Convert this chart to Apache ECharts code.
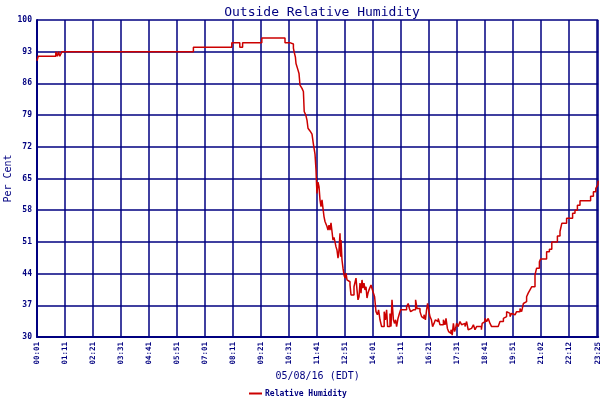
<!DOCTYPE html>
<html>
<head>
<meta charset="utf-8">
<script src="https://cdn.jsdelivr.net/npm/echarts@6/dist/echarts.min.js"></script>
<style>
html,body{margin:0;padding:0;background:#fff;}
#chart{width:600px;height:400px;}
</style>
</head>
<body>
<div id="chart"></div>
<script>
// minutes since 00:00 on 05/08/16
const times = [1,4,48,52,55,58,63,392,488,508,515,563,621,633,642,644,647,648.5,653,656,658.5,663.5,667,669,673,676,678.5,683.5,688.5,692,696,698.5,700,701,703.5,706,708.5,711,713.5,716,718.5,721,726,728.5,731,733.5,736,738.5,741,743.5,746,748.5,751,753.5,756,758.5,760,761,763.5,766,768.5,771,773.5,776,778.5,781,783.5,786,793.5,796,798.5,801,803.5,806,808.5,811,813.5,816,818.5,821,823.5,826,828.5,831,836,841,843.5,845,848.5,852,855,858.5,862.5,869,872,875,877.5,883.5,886,888.5,892,895,897.5,900,903.5,907,910,925,929,932,935,938.5,942,945,947.5,951,958.5,962.5,965,968.5,972,975,977.5,981,983.5,987,990,993.5,997,1000,1004,1008.5,1017,1021,1023.5,1027,1030,1033.5,1036,1039,1042,1045,1047.5,1050,1054,1058.5,1062.5,1067,1071,1075,1079,1083.5,1087.5,1092,1096,1100,1112,1114,1117,1121,1125,1129,1133.5,1137.5,1154,1158.5,1167,1171,1175,1179,1183.5,1187.5,1192,1196,1200,1208.5,1212.5,1217,1221,1225,1229,1233.5,1238,1246,1250,1257,1260,1275,1282,1288,1302,1308.5,1313,1325,1340,1346,1352,1358.5,1385,1392,1398,1403,1404];
const humidity = [91,92,93,92,93,92,93,94,95,94,95,96,95,94.7,93.8,92.9,91.8,90.4,89.1,88.2,85.6,84.9,84.2,79.8,79,77.9,76.1,75.5,74.8,72.6,70.4,66.9,63.5,61.7,64.2,63.2,60.3,58.8,60.3,58.4,56.6,55.5,54.4,53.6,54.7,53.6,55.2,53.3,51.4,52,51,49.9,49.2,47.4,49.2,52.9,47.7,51.4,47,45.2,43.7,43,44.1,42.6,43,42.2,41.5,39.3,41.1,41.5,43,40.4,38.2,38.9,41.9,39.7,42.6,40.8,41.9,40.4,41.1,38.6,39.7,40.4,41.5,40,40.4,38.9,35.6,34.9,36,33.8,32.3,35.6,33.8,36,32.3,35.2,32.3,38.2,33.8,33,33.8,32.3,34.1,35.2,36,36.7,37.4,36.3,35.6,36,35.6,36,38.2,36.3,35.6,34.5,34.1,34.9,33.8,36,37.4,35.6,34.5,33.8,32.3,33,33.8,33.4,34.1,32.7,33.8,32.7,34.1,31.9,31.2,30.8,31.6,30.4,33,31.2,31.9,33,32.3,33.4,32.7,33,32.3,33.4,31.6,31.9,32.3,32.7,31.6,32.3,31.6,33,33.4,34.1,33.4,34.1,33,32.3,32.7,33.4,34.1,34.5,35.6,35.2,34.5,35.2,34.9,35.2,35.6,36.3,35.6,37.4,37.8,38.9,39.7,40.4,41.1,43.7,45.2,46.6,47.2,48.8,49.4,51,52.3,53.3,55.1,56.2,57.3,58,59.1,60.1,61.1,62.1,62.8,63.6,64.5];
const tickLabels = ["00:01","01:11","02:21","03:31","04:41","05:51","07:01","08:11","09:21","10:31","11:41","12:51","14:01","15:11","16:21","17:31","18:41","19:51","21:02","22:12","23:22","23:25"];
const seriesName = "Relative Humidity";
const xMin = 1, xMax = 1404, xStep = 70;

const points = times.map((t, i) => [t, humidity[i]]);
const navy = '#000080';
const mono = 'DejaVu Sans Mono';

const chart = echarts.init(document.getElementById('chart'), null, {renderer: 'canvas'});
chart.setOption({
  backgroundColor: '#ffffff',
  animation: false,
  title: {
    text: 'Outside Relative Humidity',
    left: 317, top: 1, textAlign: 'center',
    textStyle: {fontFamily: mono, fontSize: 13, fontWeight: 'normal', color: navy}
  },
  legend: {
    data: [seriesName],
    left: 249, top: 389.5, padding: 0,
    icon: 'rect', itemWidth: 13, itemHeight: 2, itemGap: 3,
    textStyle: {fontFamily: mono, fontSize: 8, fontWeight: 'bold', color: navy, padding: [0,0,0,-2]}
  },
  grid: {left: 37, top: 20, width: 561.2, height: 317, containLabel: false, outerBoundsMode: 'none'},
  xAxis: {
    type: 'value', min: xMin, max: xMax, interval: xStep,
    name: '05/08/16 (EDT)', nameLocation: 'middle', nameGap: 34, nameMoveOverlap: false,
    nameTextStyle: {fontFamily: mono, fontSize: 10, color: navy},
    axisLine: {show: true, onZero: false, lineStyle: {color: navy, width: 2}},
    axisTick: {show: false},
    axisLabel: {
      rotate: 90, margin: 5, fontFamily: mono, fontSize: 7.5, fontWeight: 'bold', color: navy,
      showMinLabel: true, showMaxLabel: true, hideOverlap: false,
      formatter: function (v) {
        if (v >= xMax) return tickLabels[tickLabels.length - 1];
        return tickLabels[Math.round((v - xMin) / xStep)];
      }
    },
    splitLine: {show: true, lineStyle: {color: navy, width: 1.5}}
  },
  yAxis: {
    type: 'value', min: 30, max: 100, interval: 7,
    name: 'Per Cent', nameLocation: 'middle', nameGap: 24, nameMoveOverlap: false,
    nameTextStyle: {fontFamily: mono, fontSize: 10, color: navy},
    axisLine: {show: true, lineStyle: {color: navy, width: 2}},
    axisTick: {show: false},
    axisLabel: {margin: 5, fontFamily: mono, fontSize: 8, fontWeight: 'bold', color: navy},
    splitLine: {show: true, lineStyle: {color: navy, width: 1.5}}
  },
  series: [{
    name: seriesName,
    type: 'line',
    step: 'end',
    data: points,
    showSymbol: false,
    symbol: 'none',
    lineStyle: {color: '#cc0000', width: 1.5},
    itemStyle: {color: '#cc0000'}
  }]
});
</script>
</body>
</html>
